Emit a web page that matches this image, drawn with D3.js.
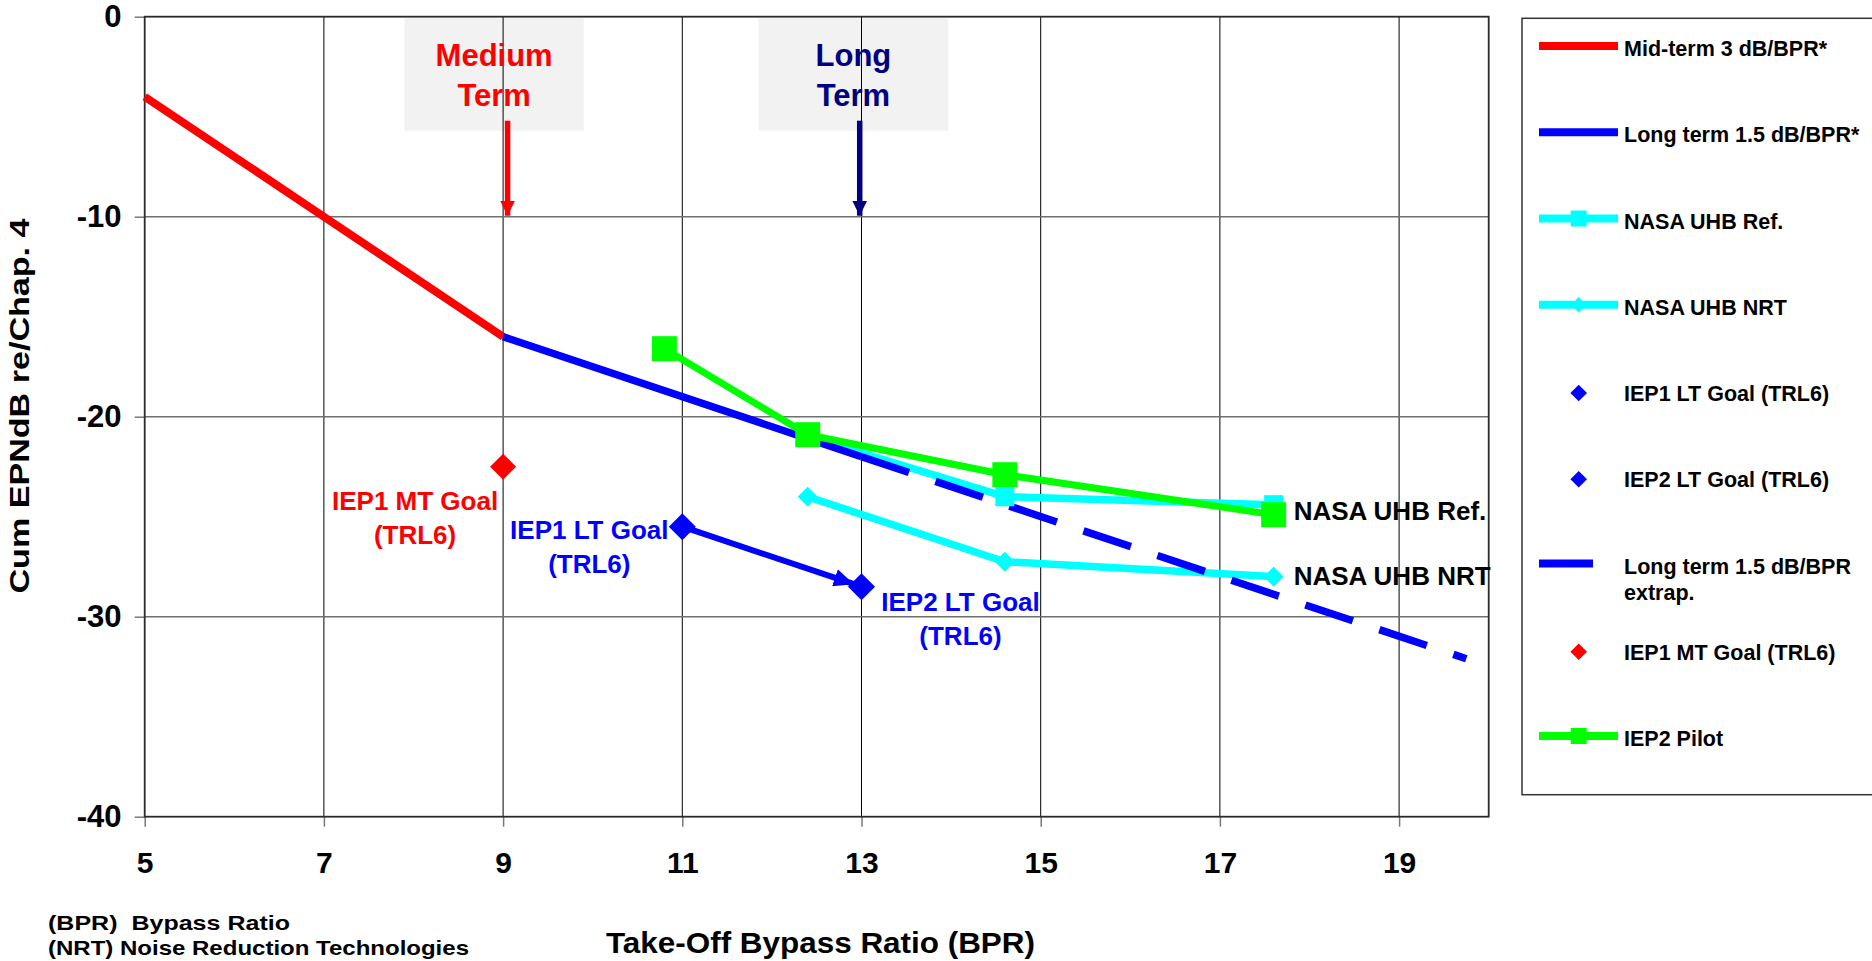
<!DOCTYPE html>
<html lang="en">
<head>
<meta charset="UTF-8">
<title>Cum EPNdB vs Take-Off BPR</title>
<script src="https://cdn.jsdelivr.net/npm/d3@7"></script>
<style>
  body { margin: 0; background: #fff; }
  svg { display: block; font-family: "Liberation Sans", Arial, sans-serif; font-weight: bold; }
</style>
</head>
<body>
<svg id="chart"></svg>
<script>
// values
var xTicks = [5, 7, 9, 11, 13, 15, 17, 19];
var yTicks = [0, -10, -20, -30, -40];

var midTermBPR = [5, 7, 9];
var midTermDB = [-4, -10, -16];

var longTermBPR = [9, 13];
var longTermDB = [-16, -22];

var extrapBPR = [13, 19.75];
var extrapDB = [-22, -32.1];

var uhbRefBPR = [12.4, 14.6, 17.6];
var uhbRefDB = [-21.0, -24.0, -24.4];

var uhbNrtBPR = [12.4, 14.6, 17.6];
var uhbNrtDB = [-24.0, -27.25, -28.0];

var pilotBPR = [10.8, 12.4, 14.6, 17.6];
var pilotDB = [-16.6, -20.9, -22.9, -24.9];

var iep1LtGoal = [11, -25.5];
var iep2LtGoal = [13, -28.5];
var iep1MtGoal = [9, -22.5];

var legendNames = ["Mid-term 3 dB/BPR*", "Long term 1.5 dB/BPR*", "NASA UHB Ref.", "NASA UHB NRT",
    "IEP1 LT Goal (TRL6)", "IEP2 LT Goal (TRL6)", "Long term 1.5 dB/BPR|extrap.",
    "IEP1 MT Goal (TRL6)", "IEP2 Pilot"];

// "Medium Term" / "Long Term" call-outs (data units)
var termLines = [["Medium", "Term"], ["Long", "Term"]];
var termBoxBPR = [[7.9, 9.9], [11.85, 13.97]];
var termBoxDB = [-0.08, -5.7];
var termArrowBPR = [9.05, 12.98];
var termArrowDB = [-5.2, -9.95];

// ---------------------------------------------------------------
var W = 1872, H = 961;
var plot = {left: 144.7, top: 16.7, right: 1488.7, bottom: 816.7};

var RED = "#ff0000", BLUE = "#0000ff", CYAN = "#00ffff", GREEN = "#00ff00", NAVY = "#000080";

var svg = d3.select("#chart").attr("width", W).attr("height", H);

var x = d3.scaleLinear().domain([5, 20]).range([plot.left, plot.right]);
var y = d3.scaleLinear().domain([-40, 0]).range([plot.bottom, plot.top]);

var zip = function (xs, ys) {
    return xs.map(function (v, i) { return [v, ys[i]]; });
};
var line = d3.line()
    .x(function (d) { return x(d[0]); })
    .y(function (d) { return y(d[1]); });

var diamond = function (w, h) {
    return "M0," + (-h) + "L" + w + ",0L0," + h + "L" + (-w) + ",0Z";
};

var defs = svg.append("defs");
function arrowMarker(id, color, len, wid) {
    defs.append("marker")
        .attr("id", id)
        .attr("markerUnits", "userSpaceOnUse")
        .attr("viewBox", "0 0 " + len + " " + wid)
        .attr("markerWidth", len).attr("markerHeight", wid)
        .attr("refX", len).attr("refY", wid / 2)
        .attr("orient", "auto")
        .append("path")
        .attr("d", "M0,0L" + len + "," + (wid / 2) + "L0," + wid + "Z")
        .attr("fill", color);
}
arrowMarker("arrRed", RED, 15, 15);
arrowMarker("arrNavy", NAVY, 15, 15);
arrowMarker("arrBlue", BLUE, 20, 18);

// call-out boxes behind the grid
svg.append("g").selectAll("rect")
    .data(termBoxBPR)
    .enter().append("rect")
    .attr("x", function (d) { return x(d[0]); })
    .attr("y", y(termBoxDB[0]))
    .attr("width", function (d) { return x(d[1]) - x(d[0]); })
    .attr("height", y(termBoxDB[1]) - y(termBoxDB[0]))
    .attr("fill", "#f2f2f2");

// grid
var grid = svg.append("g").attr("stroke", "#000").attr("stroke-width", 1);
grid.selectAll(".vx").data(xTicks.slice(1)).enter().append("line")
    .attr("x1", function (d) { return x(d); }).attr("x2", function (d) { return x(d); })
    .attr("y1", plot.top).attr("y2", plot.bottom);
grid.selectAll(".hy").data(yTicks.slice(1, -1)).enter().append("line")
    .attr("y1", function (d) { return y(d); }).attr("y2", function (d) { return y(d); })
    .attr("x1", plot.left).attr("x2", plot.right)
    .attr("stroke", "#6f6f6f").attr("stroke-width", 1.5);

// axes
var xAxis = d3.axisBottom(x).tickValues(xTicks).tickSize(10).tickPadding(25.3)
    .tickFormat(function (d) { return String(d); });
var gx = svg.append("g").attr("transform", "translate(0," + plot.bottom + ")").call(xAxis);
gx.select(".domain").remove();
gx.selectAll("line").attr("stroke", "#7a7a7a").attr("stroke-width", 1.5);
gx.selectAll("text").attr("font-size", 30).attr("font-family", "Liberation Sans, Arial, sans-serif")
    .attr("font-weight", "bold").attr("fill", "#000");

var yAxis = d3.axisLeft(y).tickValues(yTicks).tickSize(10).tickPadding(13.2)
    .tickFormat(function (d) { return String(d); });
var gy = svg.append("g").attr("transform", "translate(" + plot.left + ",0)").call(yAxis);
gy.select(".domain").remove();
gy.selectAll("line").attr("stroke", "#7a7a7a").attr("stroke-width", 1.5);
gy.selectAll("text").attr("font-size", 31).attr("font-family", "Liberation Sans, Arial, sans-serif")
    .attr("font-weight", "bold").attr("fill", "#000");

// plot frame
svg.append("rect")
    .attr("x", plot.left).attr("y", plot.top)
    .attr("width", plot.right - plot.left).attr("height", plot.bottom - plot.top)
    .attr("fill", "none").attr("stroke", "#2a2a2a").attr("stroke-width", 1.8);

// call-out text and arrows
var notes = svg.append("g").attr("text-anchor", "middle").attr("font-size", 31);
termLines.forEach(function (lines, i) {
    var c = [RED, NAVY][i];
    var cx = (x(termBoxBPR[i][0]) + x(termBoxBPR[i][1])) / 2;
    lines.forEach(function (t, j) {
        notes.append("text").attr("x", cx).attr("y", y(termBoxDB[0]) + 48 + j * 40)
            .attr("fill", c).text(t);
    });
    notes.append("line")
        .attr("x1", x(termArrowBPR[i])).attr("x2", x(termArrowBPR[i]))
        .attr("y1", y(termArrowDB[0])).attr("y2", y(termArrowDB[1]))
        .attr("stroke", c).attr("stroke-width", 5.5)
        .attr("marker-end", "url(#" + (i === 0 ? "arrRed" : "arrNavy") + ")");
});

// series
var series = svg.append("g").attr("fill", "none").attr("stroke-linejoin", "round");
series.append("path").attr("d", line(zip(midTermBPR, midTermDB)))
    .attr("stroke", RED).attr("stroke-width", 8);
series.append("path").attr("d", line(zip(uhbRefBPR, uhbRefDB)))
    .attr("stroke", CYAN).attr("stroke-width", 7.5);
series.append("path").attr("d", line(zip(uhbNrtBPR, uhbNrtDB)))
    .attr("stroke", CYAN).attr("stroke-width", 7.5);
series.append("path").attr("d", line(zip(longTermBPR, longTermDB)))
    .attr("stroke", BLUE).attr("stroke-width", 7.5);
series.append("path").attr("d", line(zip(extrapBPR, extrapDB)))
    .attr("stroke", BLUE).attr("stroke-width", 7.5).attr("stroke-dasharray", "50,28");

svg.append("g").selectAll("rect").data(zip(uhbRefBPR, uhbRefDB)).enter().append("rect")
    .attr("x", function (d) { return x(d[0]) - 9.5; }).attr("y", function (d) { return y(d[1]) - 9.5; })
    .attr("width", 19).attr("height", 19).attr("fill", CYAN);
svg.append("g").selectAll("path").data(zip(uhbNrtBPR, uhbNrtDB)).enter().append("path")
    .attr("transform", function (d) { return "translate(" + x(d[0]) + "," + y(d[1]) + ")"; })
    .attr("d", diamond(10, 10)).attr("fill", CYAN);

// IEP1 LT -> IEP2 LT arrow
(function () {
    var x1 = x(iep1LtGoal[0]), y1 = y(iep1LtGoal[1]);
    var x2 = x(iep2LtGoal[0]), y2 = y(iep2LtGoal[1]);
    var len = Math.hypot(x2 - x1, y2 - y1), k = (len - 8) / len;
    svg.append("line")
        .attr("x1", x1).attr("y1", y1)
        .attr("x2", x1 + (x2 - x1) * k).attr("y2", y1 + (y2 - y1) * k)
        .attr("stroke", BLUE).attr("stroke-width", 6)
        .attr("marker-end", "url(#arrBlue)");
})();

svg.append("g").selectAll("path").data([iep1LtGoal, iep2LtGoal]).enter().append("path")
    .attr("transform", function (d) { return "translate(" + x(d[0]) + "," + y(d[1]) + ")"; })
    .attr("d", diamond(13.5, 13.5)).attr("fill", BLUE);
svg.append("path")
    .attr("transform", "translate(" + x(iep1MtGoal[0]) + "," + y(iep1MtGoal[1]) + ")")
    .attr("d", diamond(13, 13)).attr("fill", RED);

series.append("path").attr("d", line(zip(pilotBPR, pilotDB)))
    .attr("stroke", GREEN).attr("stroke-width", 7).attr("fill", "none");
svg.append("g").selectAll("rect").data(zip(pilotBPR, pilotDB)).enter().append("rect")
    .attr("x", function (d) { return x(d[0]) - 12.5; }).attr("y", function (d) { return y(d[1]) - 12.5; })
    .attr("width", 25).attr("height", 25).attr("fill", GREEN);

// point labels
var labels = svg.append("g").attr("font-size", 26);
function twoLine(pt, dx, dy, color, a, b) {
    var t = labels.append("g").attr("text-anchor", "middle").attr("fill", color);
    t.append("text").attr("x", x(pt[0]) + dx).attr("y", y(pt[1]) + dy).text(a);
    t.append("text").attr("x", x(pt[0]) + dx).attr("y", y(pt[1]) + dy + 34).text(b);
}
twoLine(iep1MtGoal, -88, 43, RED, "IEP1 MT Goal", "(TRL6)");
twoLine(iep1LtGoal, -93, 12, BLUE, "IEP1 LT Goal", "(TRL6)");
twoLine(iep2LtGoal, 99, 24, BLUE, "IEP2 LT Goal", "(TRL6)");
labels.append("text").attr("x", x(uhbRefBPR[2]) + 20).attr("y", y(uhbRefDB[2]) + 15)
    .attr("fill", "#000").text("NASA UHB Ref.");
labels.append("text").attr("x", x(uhbNrtBPR[2]) + 20).attr("y", y(uhbNrtDB[2]) + 8)
    .attr("fill", "#000").text("NASA UHB NRT");

// axis titles and footnotes
svg.append("text")
    .attr("transform", "translate(29,406) rotate(-90)")
    .attr("text-anchor", "middle").attr("font-size", 27)
    .attr("textLength", 375).attr("lengthAdjust", "spacingAndGlyphs")
    .text("Cum EPNdB re/Chap. 4");
svg.append("text")
    .attr("x", 606).attr("y", 953).attr("font-size", 30)
    .attr("textLength", 429).attr("lengthAdjust", "spacingAndGlyphs")
    .text("Take-Off Bypass Ratio (BPR)");
svg.append("text")
    .attr("x", 48).attr("y", 929.5).attr("font-size", 21)
    .attr("textLength", 242).attr("lengthAdjust", "spacingAndGlyphs")
    .attr("xml:space", "preserve")
    .text("(BPR)  Bypass Ratio");
svg.append("text")
    .attr("x", 48).attr("y", 955).attr("font-size", 21)
    .attr("textLength", 421).attr("lengthAdjust", "spacingAndGlyphs")
    .text("(NRT) Noise Reduction Technologies");

// legend
var lg = svg.append("g");
lg.append("rect").attr("x", 1522).attr("y", 18.3).attr("width", 380).attr("height", 776.4)
    .attr("fill", "#fff").attr("stroke", "#333").attr("stroke-width", 1.5);

var legendKinds = ["line", "line", "lineSquare", "lineDiamond", "diamond", "diamond", "short", "diamond", "lineSquare"];
var legendColors = [RED, BLUE, CYAN, CYAN, BLUE, BLUE, BLUE, RED, GREEN];

legendNames.forEach(function (name, i) {
    var base = 56 + i * 86.25;
    var my = base - 10;
    var kind = legendKinds[i], c = legendColors[i];
    var row = lg.append("g");
    if (kind === "line" || kind === "lineSquare" || kind === "lineDiamond") {
        row.append("line").attr("x1", 1539).attr("x2", 1618).attr("y1", my).attr("y2", my)
            .attr("stroke", c).attr("stroke-width", 8);
    }
    if (kind === "short") {
        row.append("line").attr("x1", 1539).attr("x2", 1593).attr("y1", my).attr("y2", my)
            .attr("stroke", c).attr("stroke-width", 8);
    }
    if (kind === "lineSquare") {
        row.append("rect").attr("x", 1578.7 - 8).attr("y", my - 8).attr("width", 16).attr("height", 16)
            .attr("fill", c);
    }
    if (kind === "lineDiamond") {
        row.append("path").attr("transform", "translate(1578.7," + my + ")")
            .attr("d", diamond(7, 8)).attr("fill", c);
    }
    if (kind === "diamond") {
        row.append("path").attr("transform", "translate(1578.7," + (base - 8) + ")")
            .attr("d", diamond(8.3, 8.3)).attr("fill", c);
    }
    name.split("|").forEach(function (t, j) {
        row.append("text").attr("x", 1624).attr("y", base + j * 26)
            .attr("font-size", 21.5).attr("fill", "#000").text(t);
    });
});
</script>
</body>
</html>
